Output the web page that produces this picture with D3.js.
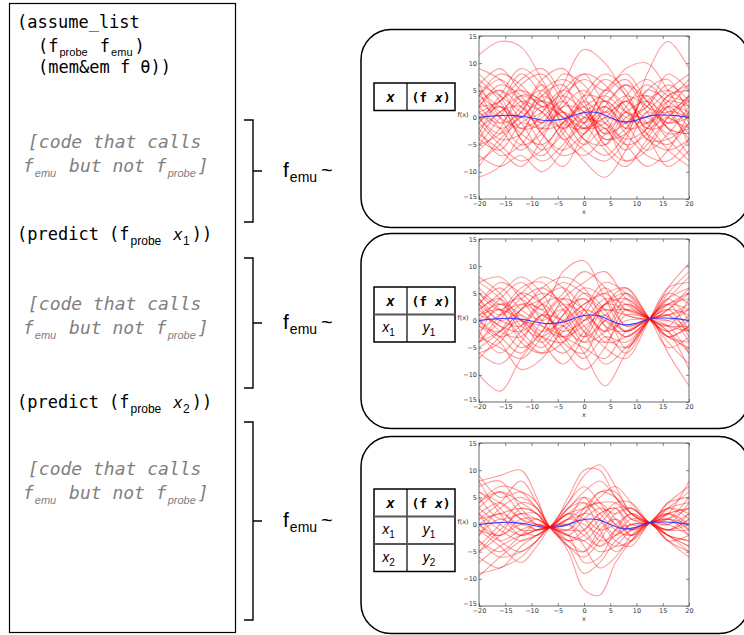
<!DOCTYPE html>
<html>
<head>
<meta charset="utf-8">
<script src="https://cdn.jsdelivr.net/npm/d3@7"></script>
<style>
  body { margin: 0; background: #fff; }
  .mono { font-family: "DejaVu Sans Mono", monospace; }
  .sans { font-family: "Liberation Sans", Arial, sans-serif; }
</style>
</head>
<body>
<svg id="fig" width="744" height="635"></svg>
<script>
// ---- data ----
const xTicks = [-20, -15, -10, -5, 0, 5, 10, 15, 20];
const yTicks = [-15, -10, -5, 0, 5, 10, 15];

// blue line (true function)
const meanX = [-20, -17, -14, -11, -7.5, -4, -1, 1, 3, 5, 7.5, 10, 12.5, 15, 17.5, 20];
const meanY = [0, 0.3, 0.4, 0.1, -0.55, -0.3, 0.7, 1.0, 0.8, 0, -0.8, -0.5, 0.3, 0.45, 0.35, 0];

// red samples, panel 1 (no observations)
const gridA = [-20, -16, -12, -8, -4, 0, 4, 8, 12, 16, 20];
const samplesA = [
  [11.5, 14, 13, 7, 1, -2, 1, 4, 2, -1, 1],
  [-11, -9, -3, 2, 0, -4, -7, -3, 3, 5, 2],
  [2, 6, 4, -1, 6, 12.5, 10, 4, -1, 2, 6],
  [4, 1, -3, -5, -1, 4, 3, -2, 8, 14, 9],
  [-3, -6, -9, -4, 2, 1, -5, -8, -5, 0, 3],
  [6, 9, 5, 3, 8, 6, 0, -4, -2, 4, 5],
  [0, -3, 1, 7, 9, 3, -4, -2, 5, 7, 0],
  [-6, -2, 4, 3, -3, -8, -11, -6, 1, -2, -7],
  [8, 4, -2, -1, 4, 7, 5, 9, 10, 5, -1],
  [1, 3, 7, 9, 4, -2, -1, 3, -1, -6, -9],
  [-4, 1, 2, -3, -7, -5, 2, 6, 3, -2, -3],
  [5, 2, 0, 4, 1, -3, 4, 7, 2, 1, 4],
  [-8, -5, 0, -5, -9, -3, 1, -3, -7, -8, -4],
  [2, -2, -6, -2, 3, 8, 6, 1, -3, -5, -1],
  [-1, 4, 9, 6, -1, -2, 3, -1, -6, -3, 2],
  [7, 3, -4, -8, -5, 0, -2, -6, -2, 3, 7],
  [-2, -7, -5, 1, 5, 2, -3, 2, 6, 2, -5],
  [3, 5, 2, -2, -1, 3, 7, 4, -3, -9, -6],
  [-5, 0, 6, 8, 3, -1, -6, -9, -4, 1, 0],
  [1, -1, 3, 1, -4, -7, -3, 4, 7, 4, 3],
  [9, 7, 3, 1, -2, 1, 3, 0, -1, 2, -2],
  [-7, -9, -7, -10, -6, 0, 2, -1, 0, -4, -8],
  [4, 8, 6, 2, 4, 1, -4, -3, 1, 5, 8],
  [-1, 2, -1, -6, -3, 4, 8, 5, -2, 0, -3],
  [0, -4, -3, 4, 6, 0, -1, -5, -9, -6, 1],
  [6, 0, -5, -3, 2, 5, 1, 3, 4, -2, -3],
  [-3, 3, 5, 3, 0, -5, -2, -8, -6, 0, 4],
  [2, 5, 0, 5, 7, 4, -5, 0, 2, 8, 5],
  [-9, -4, -1, -2, 1, -1, 5, 2, -4, -4, -1],
  [5, -1, 1, 6, -2, -6, -8, -4, 5, 3, 0],
  [3, 0, -2, 0, 3, -1, 2, -2, -1, 3, 2],
  [-2, 1, 4, 2, -2, 1, -2, 1, 3, 0, -2],
  [1, -2, 0, 3, 1, -2, 0, 3, -2, -1, 4],
  [-5, -3, 2, 5, 0, 2, 4, 1, 0, 4, 6],
  [4, 7, 3, -3, -6, -3, 0, -1, 4, 1, -4],
  [0, 2, -4, -7, -2, 3, -1, -5, -3, 2, 1],
  [-4, -6, -1, 1, 5, 8, 3, 6, 1, -3, -2],
  [2, 3, 8, 4, -4, -1, 5, 8, 3, -1, 0],
  [-1, -5, -8, -6, -1, 2, -3, -1, 2, 6, 3],
  [6, 4, 1, -1, 1, -4, -5, 1, -4, -6, -4]
];

// red samples, panel 2 (one observation at x = 12.5)
const gridB = [-20, -16, -12, -8, -4, 0, 4, 8, 12.5, 16, 20];
const samplesB = [
  [-10, -13, -7, -2, 3, 1, -4, -3, 0.3, 6, 10.5],
  [3, 7, 5, 2, 9, 11, 4, -2, 0.3, -6, -12],
  [7, 4, -2, -5, -1, -6, -12, -6, 0.3, 3, 2],
  [0, -3, -1, 4, 6, 2, -2, 3, 0.3, -3, -5],
  [-4, 1, 6, 7, 2, -4, -2, 4, 0.3, 2, 6],
  [5, 2, -3, -6, -4, 2, 7, 5, 0.3, -2, 1],
  [-6, -8, -4, 1, -3, -7, -3, -4, 0.3, 4, 8],
  [2, 5, 8, 5, 0, 3, 5, 1, 0.3, 1, -4],
  [-1, -4, -9, -7, -1, 5, 2, -5, 0.3, 5, 3],
  [4, 0, 2, 6, 8, 6, -1, -6, 0.3, 3, -2],
  [-3, 3, 1, -3, -6, -2, 3, 6, 0.3, -4, -8],
  [1, -1, -5, -2, 4, 7, 9, 4, 0.3, -1, 4],
  [6, 3, 4, 0, -5, -9, -5, 2, 0.3, -2, -6],
  [-2, -6, -2, 3, 4, -1, -5, -7, 0.3, 6, 7],
  [3, 6, 2, 0, 2, -3, 0, 5, 0.3, -5, -3],
  [-5, -2, 3, 2, -2, 0, 4, 3, 0.3, 2, 5],
  [0, 4, 7, 3, -4, -6, 0, -3, 0.3, 4, 0],
  [8, 5, 0, -4, 1, 4, 1, -2, 0.3, 0, -2],
  [-7, -3, 0, -4, -8, -3, 3, 2, 0.3, -3, -1],
  [2, -1, -2, 1, 5, 9, 6, -1, 0.3, 1, 2],
  [-1, 2, -4, -6, -2, 1, -3, -5, 0.3, 3, 4],
  [4, 1, 4, 6, 3, -2, -4, 1, 0.3, -1, -6],
  [-3, -5, -7, -3, 2, 4, -1, -2, 0.3, 2, -3],
  [1, 3, 0, -1, -3, -5, -7, -2, 0.3, 5, 9],
  [5, 2, 5, 8, 6, 0, 3, 4, 0.3, -3, -1],
  [-4, -2, 1, -2, 0, 3, 5, 6, 0.3, -2, 0],
  [0, -3, -6, 0, 4, 2, -2, 0, 0.3, 1, 3],
  [3, 0, -1, 3, -1, -4, 1, 3, 0.3, -1, -2],
  [-2, 1, 3, 1, -1, 2, 0, -3, 0.3, 2, 1],
  [7, 8, 4, -1, -3, 1, 6, 2, 0.3, -2, -9],
  [-6, -4, 2, 5, 3, -2, -8, -5, 0.3, 4, 6],
  [2, 4, -1, -3, 1, 6, 4, -1, 0.3, 0, 2],
  [-1, -2, 2, 4, 7, 5, 2, 2, 0.3, -3, -4],
  [1, 2, 0, -3, -4, 0, 2, 1, 0.3, 3, 5],
  [3, -2, -3, 1, 0, -3, 3, 5, 0.3, -1, -1],
  [-4, 0, 5, 3, -3, -1, 1, -2, 0.3, 1, -2]
];

// red samples, panel 3 (observations at x = -6.5 and x = 12.5)
const gridC = [-20, -16, -12, -9, -6.5, -3, 0, 3, 6, 9, 12.5, 16, 20];
const samplesC = [
  [8, 9, 10, 5, -0.5, 5, 10, 10, 5, 2, 0.3, 3, 6],
  [-9, -8, -6, -3, -0.5, -5, -12, -13, -7, -3, 0.3, -2, -5],
  [3, 6, 4, 2, -0.5, 3, 6, 8, 5, 1, 0.3, 2, 8],
  [-3, -6, -5, -3, -0.5, 2, 4, 2, -1, -2, 0.3, -3, -6],
  [6, 3, -1, -2, -0.5, -3, -5, -2, 2, 3, 0.3, -1, 0],
  [0, -2, 1, 1, -0.5, -2, -3, -5, -4, -1, 0.3, 1, 3],
  [-5, -2, 3, 2, -0.5, 1, 2, 5, 7, 4, 0.3, 4, 5],
  [9, 5, 6, 4, -0.5, -4, -6, -3, 1, -1, 0.3, -2, -4],
  [2, -1, -3, -2, -0.5, 4, 7, 4, 0, -3, 0.3, 3, 1],
  [-7, -4, -2, -1, -0.5, -2, 1, 3, 2, 3, 0.3, -2, -3],
  [4, 7, 6, 3, -0.5, -1, 3, 6, 6, 2, 0.3, 0, 4],
  [-2, 1, -1, -1, -0.5, 3, 5, 1, -3, -4, 0.3, 2, -1],
  [1, 4, 8, 4, -0.5, -3, -2, 1, 4, 4, 0.3, -1, 2],
  [-6, -8, -4, -2, -0.5, 0, -4, -8, -6, -2, 0.3, 1, -2],
  [5, 1, 2, 2, -0.5, 2, -1, -4, -2, 1, 0.3, -3, -5],
  [-1, -4, -7, -4, -0.5, 4, 9, 11, 7, 2, 0.3, 2, 3],
  [7, 8, 3, 0, -0.5, -1, -1, 2, 3, 0, 0.3, 4, 7],
  [-4, 0, 4, 3, -0.5, -4, -9, -7, -3, -1, 0.3, -1, 1],
  [0, 2, 0, 1, -0.5, 1, 0, -2, -4, -3, 0.3, 3, 2],
  [-9.5, -6, -3, -2, -0.5, 2, 3, 4, 4, 1, 0.3, -2, -4],
  [2, -3, -5, -3, -0.5, 0, 1, -1, 0, 2, 0.3, 1, 5],
  [6, 4, 1, 0, -0.5, -2, -3, 0, 3, 3, 0.3, -2, -3],
  [-2, 3, 5, 3, -0.5, -4, -5, -1, 1, -2, 0.3, 2, 0],
  [3, 0, -2, -1, -0.5, 3, 4, -1, -5, -3, 0.3, 0, -2],
  [-3, -5, -2, 0, -0.5, -1, 2, 6, 5, 2, 0.3, -1, 1],
  [1, 2, 3, 2, -0.5, 0, -2, -4, -1, 0, 0.3, 3, 4],
  [4, 6, 2, 0, -0.5, 1, 5, 3, 0, -1, 0.3, -3, -2],
  [-1, -2, 0, -1, -0.5, -3, -1, 2, 3, -1, 0.3, 1, -1],
  [8, 2, -2, -1, -0.5, 2, 1, -3, -2, 0, 0.3, 2, 3],
  [-5, -1, 2, 1, -0.5, -2, -7, -6, -1, 2, 0.3, -1, -1],
  [0, -3, -1, 0, -0.5, 1, 3, 4, 1, -2, 0.3, 0, 2],
  [2, 4, 1, -1, -0.5, 0, 2, 1, -2, 0, 0.3, 1, 0]
];

// table rows shown in each panel
const tableRows = [
  [],
  [["x", "1", "y", "1"]],
  [["x", "1", "y", "1"], ["x", "2", "y", "2"]]
];

// ---- layout ----
const svg = d3.select("#fig");
const black = "#000";

// left code box
svg.append("rect").attr("x", 9.5).attr("y", 3.5).attr("width", 226).attr("height", 629)
  .attr("fill", "none").attr("stroke", black).attr("stroke-width", 1.2);

// one text line with subscripts; each part is its own <text> placed after the last
function richText(x, y, parts, base) {
  const g = svg.append("g");
  let cx = x;
  parts.forEach(p => {
    const t = g.append("text").attr("x", cx).attr("y", y + (p.sub ? (p.sub === true ? 5 : p.sub) : 0))
      .attr("class", p.cls || base.cls).attr("font-size", p.size || base.size)
      .attr("fill", base.fill || black)
      .attr("font-style", (p.italic !== undefined ? p.italic : base.italic) ? "italic" : null)
      .attr("xml:space", "preserve")
      .text(p.t);
    cx += t.node().getComputedTextLength() + (p.gap || 0);
  });
  return g;
}

const codeBase = {cls: "mono", size: 17};
richText(17, 28, [{t: "(assume_list"}], codeBase);
richText(38, 52, [{t: "(f", gap: 1}, {t: "probe", sub: 3.5, cls: "sans", size: 11, gap: 2}, {t: " f", gap: 1},
  {t: "emu", sub: 3.5, cls: "sans", size: 11, gap: 2}, {t: ")"}], codeBase);
richText(38, 73, [{t: "(mem&em f θ))"}], codeBase);

const greyBase = {cls: "mono", size: 18, fill: "#808080", italic: true};
function greyBlock(y) {
  richText(28, y, [{t: "[code that calls"}], greyBase);
  richText(23, y + 24, [{t: "f", gap: 1}, {t: "emu", sub: true, cls: "sans", size: 11, gap: 2}, {t: " but not f", gap: 1},
    {t: "probe", sub: true, cls: "sans", size: 11, gap: 2}, {t: "]"}], greyBase);
}
greyBlock(148);
greyBlock(310);
greyBlock(475);

function predict(y, k) {
  richText(17, y, [{t: "(predict (f", gap: 1}, {t: "probe", sub: true, cls: "sans", size: 12, gap: 2}, {t: " "},
    {t: "x", cls: "sans", italic: true, gap: 1}, {t: k, sub: true, cls: "sans", size: 12, italic: false, gap: 2},
    {t: "))"}], codeBase);
}
predict(240, "1");
predict(408, "2");

// brackets and "f_emu ~"
const brackets = [[120, 222], [258, 388], [422, 620]];
brackets.forEach(([top, bot]) => {
  const mid = (top + bot) / 2;
  svg.append("path")
    .attr("d", `M244,${top}H253V${bot}H244M253,${mid}H262`)
    .attr("fill", "none").attr("stroke", black).attr("stroke-width", 1.4);
  richText(283, mid + 6, [{t: "f", gap: 1}, {t: "emu", sub: 5, size: 14, gap: 4}, {t: "~", size: 20}],
    {cls: "sans", size: 21});
});

// rounded panels
const panelTops = [29.5, 233.5, 436.5];
const panelH = [198, 195, 197];
panelTops.forEach((y, i) => {
  svg.append("rect").attr("x", 361).attr("y", y).attr("width", 388).attr("height", panelH[i])
    .attr("rx", 30).attr("ry", 30)
    .attr("fill", "none").attr("stroke", black).attr("stroke-width", 1.5);
});

// tables
const tableTops = [83, 287, 489];
tableRows.forEach((rows, i) => {
  const g = svg.append("g").attr("transform", `translate(374,${tableTops[i]})`);
  const rowH = 27.5, w1 = 33, w = 81;
  const h = rowH * (rows.length + 1);
  g.append("rect").attr("width", w).attr("height", h)
    .attr("fill", "#fff").attr("stroke", black).attr("stroke-width", 1.5);
  g.append("line").attr("x1", w1).attr("x2", w1).attr("y1", 0).attr("y2", h)
    .attr("stroke", black).attr("stroke-width", 1.2);
  rows.forEach((r, j) => {
    g.append("line").attr("x1", 0).attr("x2", w).attr("y1", rowH * (j + 1)).attr("y2", rowH * (j + 1))
      .attr("stroke", "#555").attr("stroke-width", 2.2);
  });
  g.append("text").attr("x", w1 / 2).attr("y", rowH / 2 + 5).attr("text-anchor", "middle")
    .attr("class", "sans").attr("font-size", 14).attr("font-weight", "bold").attr("font-style", "italic")
    .text("x");
  const hdr = g.append("text").attr("x", (w1 + w) / 2).attr("y", rowH / 2 + 5).attr("text-anchor", "middle")
    .attr("class", "mono").attr("font-size", 13).attr("font-weight", "bold")
    .attr("xml:space", "preserve");
  hdr.append("tspan").text("(f ");
  hdr.append("tspan").attr("font-style", "italic").text("x");
  hdr.append("tspan").text(")");
  rows.forEach((r, j) => {
    const cy = rowH * (j + 1) + rowH / 2 + 4;
    [[w1 / 2, r[0], r[1]], [(w1 + w) / 2, r[2], r[3]]].forEach(([cx, v, s]) => {
      const t = g.append("text").attr("x", cx - 2).attr("y", cy).attr("text-anchor", "middle")
        .attr("class", "sans").attr("font-size", 14);
      t.append("tspan").attr("font-style", "italic").text(v);
      t.append("tspan").attr("font-size", 10).attr("dy", 4).text(s);
    });
  });
});

// plots
const plotLeft = 479, plotW = 210, plotH = 163;
const plotTops = [36, 239, 443];
const grids = [gridA, gridB, gridC];
const sampleSets = [samplesA, samplesB, samplesC];
const fmt = d => d < 0 ? "\u2212" + Math.abs(d) : String(d);

plotTops.forEach((top, i) => {
  const x = d3.scaleLinear().domain([-20, 20]).range([0, plotW]);
  const y = d3.scaleLinear().domain([-15, 15]).range([plotH, 0]);
  const g = svg.append("g").attr("transform", `translate(${plotLeft},${top})`);

  g.append("clipPath").attr("id", "clip" + i)
    .append("rect").attr("width", plotW).attr("height", plotH);

  const line = d3.line().curve(d3.curveCatmullRom.alpha(0.5));
  const grid = grids[i];
  g.append("g").attr("clip-path", `url(#clip${i})`)
    .selectAll("path").data(sampleSets[i]).join("path")
    .attr("d", ys => line(ys.map((v, k) => [x(grid[k]), y(v)])))
    .attr("fill", "none").attr("stroke", "#ff0000").attr("stroke-opacity", 0.38).attr("stroke-width", 1.1);

  g.append("path")
    .attr("d", line(meanX.map((v, k) => [x(v), y(meanY[k])])))
    .attr("fill", "none").attr("stroke", "#3c3cff").attr("stroke-width", 1.1);

  const axStyle = sel => {
    sel.select(".domain").remove();
    sel.selectAll(".tick line").attr("stroke", "#333").attr("stroke-width", 0.6);
    sel.selectAll(".tick text").attr("font-size", 6.5).attr("fill", "#333")
      .attr("font-family", "'DejaVu Sans', sans-serif");
  };
  g.append("g").attr("transform", `translate(0,${plotH})`)
    .call(d3.axisBottom(x).tickValues(xTicks).tickFormat(fmt).tickSize(-3).tickPadding(2))
    .call(axStyle);
  g.append("g")
    .call(d3.axisTop(x).tickValues(xTicks).tickFormat("").tickSize(-3))
    .call(axStyle);
  const yAxis = g.append("g")
    .call(d3.axisLeft(y).tickValues(yTicks).tickFormat(fmt).tickSize(-3).tickPadding(2))
    .call(axStyle);
  // raise the lowest y label a little so it clears the x labels at the corner
  yAxis.selectAll(".tick text").filter(d => d === -15).attr("dy", "-0.05em");
  g.append("g").attr("transform", `translate(${plotW},0)`)
    .call(d3.axisRight(y).tickValues(yTicks).tickFormat("").tickSize(-3))
    .call(axStyle);

  g.append("rect").attr("width", plotW).attr("height", plotH)
    .attr("fill", "none").attr("stroke", "#444").attr("stroke-width", 0.8);

  g.append("text").attr("x", -16).attr("y", y(0) - 1).attr("text-anchor", "middle")
    .attr("font-size", 6.5).attr("fill", "#333").attr("font-family", "'DejaVu Sans', sans-serif")
    .text("f(x)");
  g.append("text").attr("x", plotW / 2).attr("y", plotH + 15).attr("text-anchor", "middle")
    .attr("font-size", 6.5).attr("fill", "#333").attr("font-family", "'DejaVu Sans', sans-serif")
    .text("x");
});
</script>
</body>
</html>
